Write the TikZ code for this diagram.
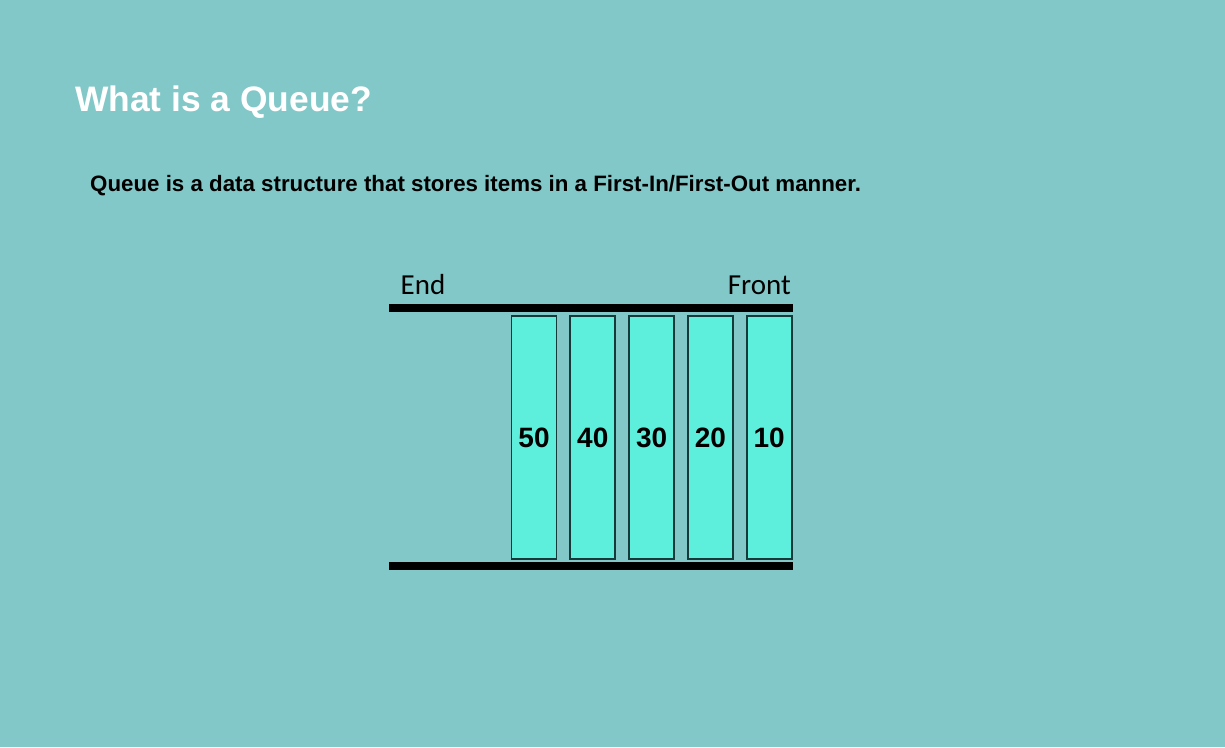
\documentclass[tikz,border=0pt]{standalone}
\usepackage{fontspec}
\setmainfont{Liberation Sans}
\newfontfamily\labelfont{Carlito}
\usepackage{xcolor}
\definecolor{slidebg}{HTML}{82C8C8}
\definecolor{cellfill}{HTML}{5EEEDC}
\definecolor{celledge}{HTML}{163A3A}
\usetikzlibrary{positioning}

\begin{document}
\begin{tikzpicture}[
  x=1pt,y=-1pt,
  title/.style={anchor=base west,inner sep=0pt,text=white,font=\fontsize{35.4}{40}\selectfont\bfseries},
  lead/.style={anchor=base west,inner sep=0pt,font=\fontsize{22.3}{26}\selectfont\bfseries},
  endlabel/.style={anchor=base,inner sep=0pt,font=\labelfont\fontsize{29}{32}\selectfont},
  cell/.style={draw=celledge,line width=1.8pt,fill=cellfill,minimum width=45pt,minimum height=243pt,inner sep=0pt,
    font=\fontsize{28}{30}\selectfont\bfseries},
  rail/.style={line width=8pt}
]
\fill[slidebg] (0,0) rectangle (1225,747);
\node[title] (head) at (75,111) {What is a Queue?};
\node[lead] (desc) at (90,191) {Queue is a data structure that stores items in a First-In/First-Out manner.};
% queue cells, front on the right
\foreach \v [count=\i] in {50,40,30,20,10}
  \node[cell] (c\i) at ({534+58.8*(\i-1)},437.5) {\v};
\coordinate (tl) at (389,307.5);
\coordinate (tr) at (793,307.5);
\coordinate (bl) at (389,566);
\coordinate (br) at (793,566);
\draw[rail] (tl) -- (tr);
\draw[rail] (bl) -- (br);
\node[endlabel] (endlab) at (423,294) {End};
\node[endlabel,anchor=base east] (frontlab) at (791,294) {Front};
\end{tikzpicture}
\end{document}
